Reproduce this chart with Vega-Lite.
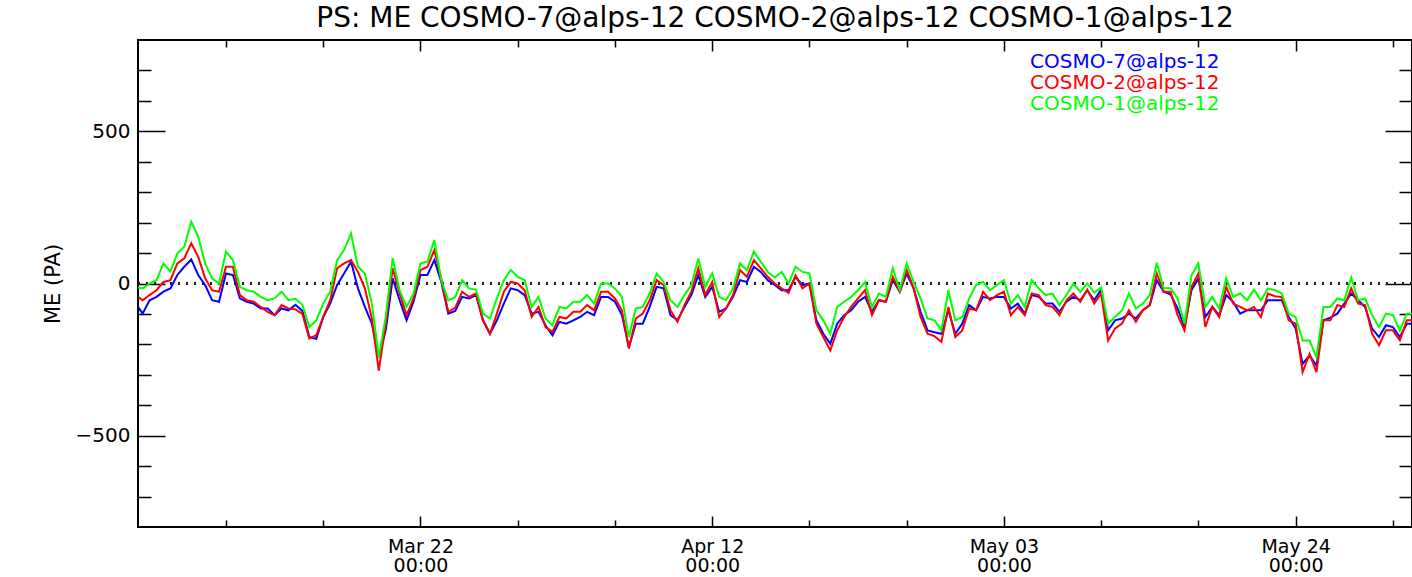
{
 "$schema": "https://vega.github.io/schema/vega-lite/v6.json",
 "width": 1274, "height": 487,
 "autosize": {"type": "none"},
 "padding": {"left": 138, "top": 40, "right": 0, "bottom": 50},
 "background": "white",
 "title": {"text": "PS: ME COSMO-7@alps-12 COSMO-2@alps-12 COSMO-1@alps-12", "font": "DejaVu Sans", "fontSize": 28, "fontWeight": "normal", "color": "black", "anchor": "middle", "frame": "group", "baseline": "alphabetic", "offset": -16},
 "config": {"view": {"stroke": "black", "strokeWidth": 2}, "axis": {"labelFont": "DejaVu Sans", "titleFont": "DejaVu Sans", "labelColor": "black", "tickColor": "black", "titleColor": "black", "grid": false, "domain": false}},
 "data": {"values": [
  {"t":"2016-03-01T16:00","b":-77,"r":-44,"g":-13},
  {"t":"2016-03-02T00:00","b":-99,"r":-55,"g":-16},
  {"t":"2016-03-02T12:00","b":-55,"r":-38,"g":0},
  {"t":"2016-03-03T00:00","b":-44,"r":-22,"g":11},
  {"t":"2016-03-03T12:00","b":-27,"r":5,"g":66},
  {"t":"2016-03-04T00:00","b":-16,"r":11,"g":39},
  {"t":"2016-03-04T12:00","b":28,"r":66,"g":99},
  {"t":"2016-03-05T00:00","b":55,"r":83,"g":121},
  {"t":"2016-03-05T12:00","b":79,"r":132,"g":203},
  {"t":"2016-03-06T00:00","b":28,"r":88,"g":154},
  {"t":"2016-03-06T12:00","b":-5,"r":17,"g":66},
  {"t":"2016-03-07T00:00","b":-55,"r":-22,"g":17},
  {"t":"2016-03-07T12:00","b":-60,"r":-27,"g":0},
  {"t":"2016-03-08T00:00","b":33,"r":55,"g":105},
  {"t":"2016-03-08T12:00","b":28,"r":55,"g":77},
  {"t":"2016-03-09T00:00","b":-49,"r":-38,"g":-11},
  {"t":"2016-03-09T12:00","b":-60,"r":-55,"g":-22},
  {"t":"2016-03-10T00:00","b":-66,"r":-60,"g":-27},
  {"t":"2016-03-10T12:00","b":-82,"r":-77,"g":-44},
  {"t":"2016-03-11T00:00","b":-82,"r":-93,"g":-55},
  {"t":"2016-03-11T12:00","b":-104,"r":-104,"g":-49},
  {"t":"2016-03-12T00:00","b":-82,"r":-71,"g":-27},
  {"t":"2016-03-12T12:00","b":-88,"r":-82,"g":-55},
  {"t":"2016-03-13T00:00","b":-70,"r":-85,"g":-50},
  {"t":"2016-03-13T12:00","b":-90,"r":-100,"g":-70},
  {"t":"2016-03-14T00:00","b":-176,"r":-181,"g":-143},
  {"t":"2016-03-14T12:00","b":-182,"r":-170,"g":-121},
  {"t":"2016-03-15T00:00","b":-110,"r":-110,"g":-66},
  {"t":"2016-03-15T12:00","b":-66,"r":-55,"g":-27},
  {"t":"2016-03-16T00:00","b":-5,"r":50,"g":77},
  {"t":"2016-03-16T12:00","b":33,"r":66,"g":110},
  {"t":"2016-03-17T00:00","b":72,"r":77,"g":165},
  {"t":"2016-03-17T12:00","b":-16,"r":38,"g":55},
  {"t":"2016-03-18T00:00","b":-77,"r":-16,"g":33},
  {"t":"2016-03-18T12:00","b":-132,"r":-115,"g":-66},
  {"t":"2016-03-19T00:00","b":-242,"r":-286,"g":-242},
  {"t":"2016-03-19T12:00","b":-154,"r":-132,"g":-110},
  {"t":"2016-03-20T00:00","b":17,"r":50,"g":83},
  {"t":"2016-03-20T12:00","b":-55,"r":-33,"g":-22},
  {"t":"2016-03-21T00:00","b":-121,"r":-104,"g":-77},
  {"t":"2016-03-21T12:00","b":-60,"r":-49,"g":-33},
  {"t":"2016-03-22T00:00","b":28,"r":44,"g":66},
  {"t":"2016-03-22T12:00","b":28,"r":55,"g":72},
  {"t":"2016-03-23T00:00","b":77,"r":110,"g":143},
  {"t":"2016-03-23T12:00","b":5,"r":15,"g":10},
  {"t":"2016-03-24T00:00","b":-99,"r":-93,"g":-55},
  {"t":"2016-03-24T12:00","b":-90,"r":-80,"g":-45},
  {"t":"2016-03-25T00:00","b":-44,"r":-27,"g":11},
  {"t":"2016-03-25T12:00","b":-49,"r":-44,"g":-16},
  {"t":"2016-03-26T00:00","b":-38,"r":-33,"g":-20},
  {"t":"2016-03-26T12:00","b":-121,"r":-121,"g":-99},
  {"t":"2016-03-27T00:00","b":-165,"r":-165,"g":-115},
  {"t":"2016-03-27T12:00","b":-121,"r":-99,"g":-49},
  {"t":"2016-03-28T00:00","b":-66,"r":-27,"g":11},
  {"t":"2016-03-28T12:00","b":-16,"r":5,"g":44},
  {"t":"2016-03-29T00:00","b":-22,"r":0,"g":22},
  {"t":"2016-03-29T12:00","b":-38,"r":-22,"g":11},
  {"t":"2016-03-30T00:00","b":-99,"r":-110,"g":-77},
  {"t":"2016-03-30T12:00","b":-93,"r":-77,"g":-44},
  {"t":"2016-03-31T00:00","b":-137,"r":-143,"g":-115},
  {"t":"2016-03-31T12:00","b":-170,"r":-159,"g":-137},
  {"t":"2016-04-01T00:00","b":-126,"r":-110,"g":-77},
  {"t":"2016-04-01T12:00","b":-132,"r":-115,"g":-82},
  {"t":"2016-04-02T00:00","b":-121,"r":-93,"g":-60},
  {"t":"2016-04-02T12:00","b":-110,"r":-93,"g":-60},
  {"t":"2016-04-03T00:00","b":-93,"r":-71,"g":-38},
  {"t":"2016-04-03T12:00","b":-104,"r":-88,"g":-66},
  {"t":"2016-04-04T00:00","b":-44,"r":-27,"g":0},
  {"t":"2016-04-04T12:00","b":-44,"r":-27,"g":0},
  {"t":"2016-04-05T00:00","b":-60,"r":-49,"g":-16},
  {"t":"2016-04-05T12:00","b":-104,"r":-88,"g":-44},
  {"t":"2016-04-06T00:00","b":-209,"r":-214,"g":-176},
  {"t":"2016-04-06T12:00","b":-132,"r":-115,"g":-82},
  {"t":"2016-04-07T00:00","b":-132,"r":-99,"g":-77},
  {"t":"2016-04-07T12:00","b":-77,"r":-55,"g":-33},
  {"t":"2016-04-08T00:00","b":-11,"r":11,"g":33},
  {"t":"2016-04-08T12:00","b":-16,"r":-5,"g":5},
  {"t":"2016-04-09T00:00","b":-104,"r":-88,"g":-55},
  {"t":"2016-04-09T12:00","b":-121,"r":-126,"g":-77},
  {"t":"2016-04-10T00:00","b":-77,"r":-71,"g":-38},
  {"t":"2016-04-10T12:00","b":-38,"r":-27,"g":-5},
  {"t":"2016-04-11T00:00","b":28,"r":50,"g":82},
  {"t":"2016-04-11T12:00","b":-44,"r":-38,"g":-11},
  {"t":"2016-04-12T00:00","b":-11,"r":5,"g":33},
  {"t":"2016-04-12T12:00","b":-93,"r":-110,"g":-44},
  {"t":"2016-04-13T00:00","b":-82,"r":-82,"g":-55},
  {"t":"2016-04-13T12:00","b":-44,"r":-38,"g":-16},
  {"t":"2016-04-14T00:00","b":11,"r":44,"g":66},
  {"t":"2016-04-14T12:00","b":5,"r":22,"g":44},
  {"t":"2016-04-15T00:00","b":55,"r":77,"g":105},
  {"t":"2016-04-15T12:00","b":38,"r":50,"g":71},
  {"t":"2016-04-16T00:00","b":11,"r":22,"g":38},
  {"t":"2016-04-16T12:00","b":-5,"r":0,"g":20},
  {"t":"2016-04-17T00:00","b":-22,"r":-16,"g":38},
  {"t":"2016-04-17T12:00","b":-22,"r":-31,"g":0},
  {"t":"2016-04-18T00:00","b":22,"r":27,"g":55},
  {"t":"2016-04-18T12:00","b":-5,"r":-16,"g":38},
  {"t":"2016-04-19T00:00","b":0,"r":0,"g":33},
  {"t":"2016-04-19T12:00","b":-121,"r":-132,"g":-88},
  {"t":"2016-04-20T00:00","b":-165,"r":-176,"g":-121},
  {"t":"2016-04-20T12:00","b":-198,"r":-220,"g":-165},
  {"t":"2016-04-21T00:00","b":-132,"r":-154,"g":-77},
  {"t":"2016-04-21T12:00","b":-104,"r":-110,"g":-60},
  {"t":"2016-04-22T00:00","b":-88,"r":-77,"g":-44},
  {"t":"2016-04-22T12:00","b":-60,"r":-49,"g":-22},
  {"t":"2016-04-23T00:00","b":-44,"r":-22,"g":5},
  {"t":"2016-04-23T12:00","b":-93,"r":-104,"g":-77},
  {"t":"2016-04-24T00:00","b":-55,"r":-55,"g":-33},
  {"t":"2016-04-24T12:00","b":-60,"r":-60,"g":-44},
  {"t":"2016-04-25T00:00","b":11,"r":22,"g":50},
  {"t":"2016-04-25T12:00","b":-27,"r":-27,"g":-22},
  {"t":"2016-04-26T00:00","b":33,"r":44,"g":66},
  {"t":"2016-04-26T12:00","b":-16,"r":-16,"g":5},
  {"t":"2016-04-27T00:00","b":-93,"r":-110,"g":-49},
  {"t":"2016-04-27T12:00","b":-154,"r":-165,"g":-115},
  {"t":"2016-04-28T00:00","b":-160,"r":-173,"g":-121},
  {"t":"2016-04-28T12:00","b":-165,"r":-192,"g":-154},
  {"t":"2016-04-29T00:00","b":-88,"r":-77,"g":-22},
  {"t":"2016-04-29T12:00","b":-165,"r":-176,"g":-121},
  {"t":"2016-04-30T00:00","b":-132,"r":-154,"g":-110},
  {"t":"2016-04-30T12:00","b":-71,"r":-82,"g":-49},
  {"t":"2016-05-01T00:00","b":-88,"r":-88,"g":-5},
  {"t":"2016-05-01T12:00","b":-44,"r":-27,"g":5},
  {"t":"2016-05-02T00:00","b":-49,"r":-55,"g":-22},
  {"t":"2016-05-02T12:00","b":-44,"r":-38,"g":-5},
  {"t":"2016-05-03T00:00","b":-44,"r":-27,"g":11},
  {"t":"2016-05-03T12:00","b":-82,"r":-104,"g":-66},
  {"t":"2016-05-04T00:00","b":-66,"r":-77,"g":-38},
  {"t":"2016-05-04T12:00","b":-99,"r":-104,"g":-77},
  {"t":"2016-05-05T00:00","b":-38,"r":-33,"g":11},
  {"t":"2016-05-05T12:00","b":-44,"r":-38,"g":-16},
  {"t":"2016-05-06T00:00","b":-66,"r":-71,"g":-38},
  {"t":"2016-05-06T12:00","b":-66,"r":-77,"g":-33},
  {"t":"2016-05-07T00:00","b":-93,"r":-104,"g":-71},
  {"t":"2016-05-07T12:00","b":-60,"r":-55,"g":-38},
  {"t":"2016-05-08T00:00","b":-44,"r":-33,"g":0},
  {"t":"2016-05-08T12:00","b":-55,"r":-60,"g":-27},
  {"t":"2016-05-09T00:00","b":-22,"r":-20,"g":0},
  {"t":"2016-05-09T12:00","b":-55,"r":-66,"g":-30},
  {"t":"2016-05-10T00:00","b":-20,"r":-33,"g":-13},
  {"t":"2016-05-10T12:00","b":-154,"r":-187,"g":-132},
  {"t":"2016-05-11T00:00","b":-121,"r":-148,"g":-110},
  {"t":"2016-05-11T12:00","b":-115,"r":-132,"g":-88},
  {"t":"2016-05-12T00:00","b":-99,"r":-88,"g":-33},
  {"t":"2016-05-12T12:00","b":-115,"r":-126,"g":-82},
  {"t":"2016-05-13T00:00","b":-88,"r":-88,"g":-66},
  {"t":"2016-05-13T12:00","b":-71,"r":-71,"g":-38},
  {"t":"2016-05-14T00:00","b":11,"r":33,"g":68},
  {"t":"2016-05-14T12:00","b":-27,"r":-27,"g":-16},
  {"t":"2016-05-15T00:00","b":-36,"r":-27,"g":-16},
  {"t":"2016-05-15T12:00","b":-82,"r":-104,"g":-49},
  {"t":"2016-05-16T00:00","b":-143,"r":-154,"g":-132},
  {"t":"2016-05-16T12:00","b":-22,"r":-11,"g":27},
  {"t":"2016-05-17T00:00","b":17,"r":33,"g":66},
  {"t":"2016-05-17T12:00","b":-110,"r":-143,"g":-77},
  {"t":"2016-05-18T00:00","b":-77,"r":-77,"g":-44},
  {"t":"2016-05-18T12:00","b":-104,"r":-110,"g":-82},
  {"t":"2016-05-19T00:00","b":-38,"r":-11,"g":17},
  {"t":"2016-05-19T12:00","b":-60,"r":-66,"g":-44},
  {"t":"2016-05-20T00:00","b":-99,"r":-77,"g":-33},
  {"t":"2016-05-20T12:00","b":-88,"r":-88,"g":-55},
  {"t":"2016-05-21T00:00","b":-88,"r":-77,"g":-20},
  {"t":"2016-05-21T12:00","b":-88,"r":-110,"g":-55},
  {"t":"2016-05-22T00:00","b":-55,"r":-33,"g":-16},
  {"t":"2016-05-22T12:00","b":-55,"r":-42,"g":-22},
  {"t":"2016-05-23T00:00","b":-55,"r":-44,"g":-33},
  {"t":"2016-05-23T12:00","b":-110,"r":-121,"g":-99},
  {"t":"2016-05-24T00:00","b":-148,"r":-132,"g":-110},
  {"t":"2016-05-24T12:00","b":-264,"r":-291,"g":-187},
  {"t":"2016-05-25T00:00","b":-236,"r":-231,"g":-187},
  {"t":"2016-05-25T12:00","b":-270,"r":-291,"g":-242},
  {"t":"2016-05-26T00:00","b":-121,"r":-121,"g":-77},
  {"t":"2016-05-26T12:00","b":-112,"r":-121,"g":-77},
  {"t":"2016-05-27T00:00","b":-99,"r":-71,"g":-49},
  {"t":"2016-05-27T12:00","b":-66,"r":-77,"g":-55},
  {"t":"2016-05-28T00:00","b":-33,"r":-16,"g":20},
  {"t":"2016-05-28T12:00","b":-55,"r":-66,"g":-55},
  {"t":"2016-05-29T00:00","b":-77,"r":-71,"g":-49},
  {"t":"2016-05-29T12:00","b":-148,"r":-165,"g":-104},
  {"t":"2016-05-30T00:00","b":-176,"r":-203,"g":-143},
  {"t":"2016-05-30T12:00","b":-137,"r":-154,"g":-99},
  {"t":"2016-05-31T00:00","b":-143,"r":-154,"g":-104},
  {"t":"2016-05-31T12:00","b":-176,"r":-187,"g":-154},
  {"t":"2016-06-01T00:00","b":-132,"r":-121,"g":-99},
  {"t":"2016-06-01T12:00","b":-132,"r":-121,"g":-99}
 ]},
 "layer": [
  {
   "mark": {"type": "rule", "color": "#222222", "strokeDash": [2, 6], "strokeWidth": 1.5},
   "encoding": {
    "y": {"datum": 0, "type": "quantitative", "scale": {"domain": [-800, 800], "nice": false, "zero": false}, "axis": null}
   }
  },
  {
   "mark": {"type": "line", "strokeWidth": 2, "clip": true},
   "encoding": {
    "x": {"field": "t", "type": "temporal",
     "scale": {"domain": [{"year": 2016, "month": 3, "date": 1, "hours": 16}, {"year": 2016, "month": 6, "date": 1, "hours": 9}], "nice": false},
     "axis": {"orient": "bottom", "values": [{"year": 2016, "month": 3, "date": 22}, {"year": 2016, "month": 4, "date": 12}, {"year": 2016, "month": 5, "date": 3}, {"year": 2016, "month": 5, "date": 24}],
      "ticks": false, "domain": false, "grid": false, "title": null,
      "labelExpr": "[timeFormat(datum.value, '%b %d'), timeFormat(datum.value, '%H:%M')]",
      "labelFontSize": 19, "labelPadding": 10, "labelLineHeight": 19.5, "labelFlush": false, "labelOverlap": false}},
    "y": {"field": "b", "type": "quantitative",
     "scale": {"domain": [-800, 800], "nice": false, "zero": false},
     "axis": {"orient": "left", "values": [-500, 0, 500], "ticks": false, "domain": false, "grid": false,
      "labelFontSize": 20, "labelPadding": 8,
      "title": "ME (PA)", "titleFontSize": 21, "titleFontWeight": "normal", "titleX": -79, "titleY": 243.5, "titleAngle": 270, "titleAlign": "center", "titleBaseline": "alphabetic"}},
    "color": {"datum": "COSMO-7@alps-12",
     "scale": {"domain": ["COSMO-7@alps-12", "COSMO-2@alps-12", "COSMO-1@alps-12"], "range": ["#0000ff", "#ff0000", "#00ff00"]},
     "legend": {"orient": "none", "legendX": 872, "legendY": 12, "title": null, "padding": 0,
      "symbolSize": 0, "symbolOpacity": 0, "symbolStrokeWidth": 0, "labelOffset": 0,
      "labelFont": "DejaVu Sans", "labelFontSize": 20, "rowPadding": 1, "labelLimit": 400,
      "encode": {"labels": {"update": {"fill": {"scale": "color", "field": "value"}}}}}}
   }
  },
  {
   "mark": {"type": "line", "strokeWidth": 2, "clip": true},
   "encoding": {
    "x": {"field": "t", "type": "temporal",
     "scale": {"domain": [{"year": 2016, "month": 3, "date": 1, "hours": 16}, {"year": 2016, "month": 6, "date": 1, "hours": 9}], "nice": false},
     "axis": {"orient": "bottom", "labels": false, "domain": false, "grid": false, "title": null, "tickWidth": 1.5,
      "values": [{"year": 2016, "month": 3, "date": 8}, {"year": 2016, "month": 3, "date": 15}, {"year": 2016, "month": 3, "date": 22}, {"year": 2016, "month": 3, "date": 29}, {"year": 2016, "month": 4, "date": 5}, {"year": 2016, "month": 4, "date": 12}, {"year": 2016, "month": 4, "date": 19}, {"year": 2016, "month": 4, "date": 26}, {"year": 2016, "month": 5, "date": 3}, {"year": 2016, "month": 5, "date": 10}, {"year": 2016, "month": 5, "date": 17}, {"year": 2016, "month": 5, "date": 24}, {"year": 2016, "month": 5, "date": 31}],
      "tickSize": {"condition": {"test": "round((datum.value - datetime(2016, 2, 22)) / 86400000) % 21 === 0", "value": -11}, "value": -7}}},
    "y": {"field": "r", "type": "quantitative",
     "scale": {"domain": [-800, 800], "nice": false, "zero": false},
     "axis": {"orient": "left", "labels": false, "domain": false, "grid": false, "title": null, "tickWidth": 1.5,
      "values": [-700, -600, -500, -400, -300, -200, -100, 0, 100, 200, 300, 400, 500, 600, 700],
      "tickSize": {"condition": {"test": "datum.value % 500 === 0", "value": -27}, "value": -13}}},
    "color": {"datum": "COSMO-2@alps-12",
     "scale": {"domain": ["COSMO-7@alps-12", "COSMO-2@alps-12", "COSMO-1@alps-12"], "range": ["#0000ff", "#ff0000", "#00ff00"]}}
   }
  },
  {
   "mark": {"type": "line", "strokeWidth": 2, "clip": true},
   "encoding": {
    "x": {"field": "t", "type": "temporal",
     "scale": {"domain": [{"year": 2016, "month": 3, "date": 1, "hours": 16}, {"year": 2016, "month": 6, "date": 1, "hours": 9}], "nice": false},
     "axis": {"orient": "top", "labels": false, "domain": false, "grid": false, "title": null, "tickWidth": 1.5,
      "values": [{"year": 2016, "month": 3, "date": 8}, {"year": 2016, "month": 3, "date": 15}, {"year": 2016, "month": 3, "date": 22}, {"year": 2016, "month": 3, "date": 29}, {"year": 2016, "month": 4, "date": 5}, {"year": 2016, "month": 4, "date": 12}, {"year": 2016, "month": 4, "date": 19}, {"year": 2016, "month": 4, "date": 26}, {"year": 2016, "month": 5, "date": 3}, {"year": 2016, "month": 5, "date": 10}, {"year": 2016, "month": 5, "date": 17}, {"year": 2016, "month": 5, "date": 24}, {"year": 2016, "month": 5, "date": 31}],
      "tickSize": {"condition": {"test": "round((datum.value - datetime(2016, 2, 22)) / 86400000) % 21 === 0", "value": -11}, "value": -7}}},
    "y": {"field": "g", "type": "quantitative",
     "scale": {"domain": [-800, 800], "nice": false, "zero": false},
     "axis": {"orient": "right", "labels": false, "domain": false, "grid": false, "title": null, "tickWidth": 1.5,
      "values": [-700, -600, -500, -400, -300, -200, -100, 0, 100, 200, 300, 400, 500, 600, 700],
      "tickSize": {"condition": {"test": "datum.value % 500 === 0", "value": -27}, "value": -13}}},
    "color": {"datum": "COSMO-1@alps-12",
     "scale": {"domain": ["COSMO-7@alps-12", "COSMO-2@alps-12", "COSMO-1@alps-12"], "range": ["#0000ff", "#ff0000", "#00ff00"]}}
   }
  }
 ],
 "resolve": {"axis": {"x": "independent", "y": "independent"}}
}
